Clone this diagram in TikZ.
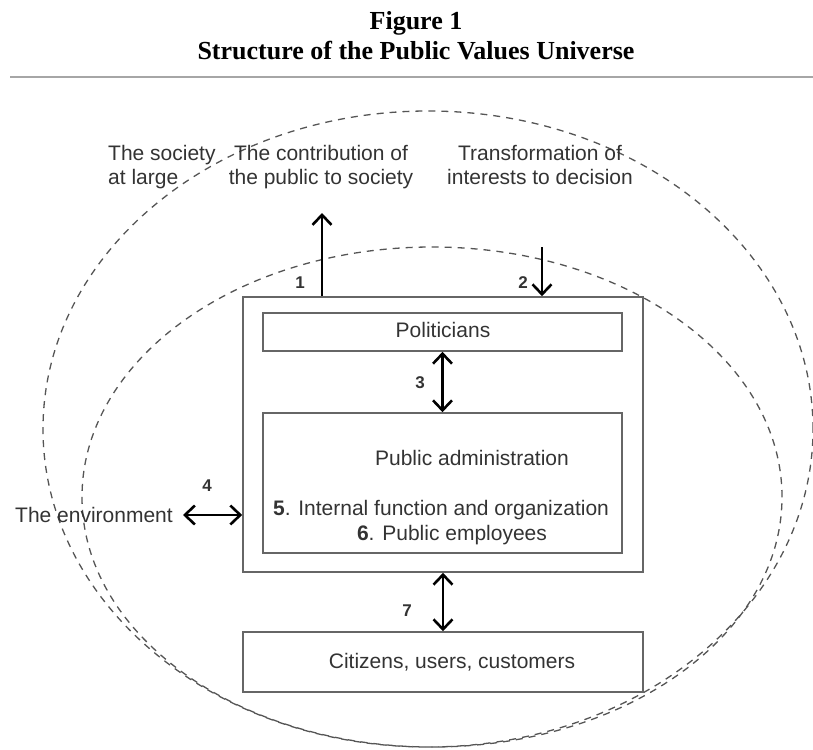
\documentclass[tikz,border=0pt]{standalone}
\usepackage{fontspec}
\setmainfont{Liberation Serif}
\setsansfont{Liberation Sans}
\usetikzlibrary{arrows.meta}
\definecolor{txt}{HTML}{333333}
\definecolor{boxc}{HTML}{666666}
\definecolor{dashc}{HTML}{555555}
\tikzset{
  box/.style={draw=boxc, line width=1.6pt, minimum width=#1, inner sep=0pt},
  lbl/.style={font=\sffamily\fontsize{21}{24}\selectfont, text=txt, inner sep=0pt, anchor=base},
  num/.style={font=\sffamily\bfseries\fontsize{17}{20}\selectfont, text=txt, inner sep=0pt, anchor=base},
  tip/.style={Straight Barb[length=10pt,width=19pt,line width=2.6pt]},
  arr/.style={line width=2.5pt, -{Straight Barb[length=10pt,width=19pt,line width=2.6pt]}},
  darr/.style={line width=2.5pt, {Straight Barb[length=10pt,width=19pt,line width=2.6pt]}-{Straight Barb[length=10pt,width=19pt,line width=2.6pt]}},
  dashell/.style={draw=dashc, line width=1.3pt, dash pattern=on 7pt off 6pt}
}
\begin{document}
\begin{tikzpicture}[x=1pt,y=-1pt]
\useasboundingbox (0,0) rectangle (813,749);
% title
\node[font=\rmfamily\bfseries\fontsize{26}{30}\selectfont, anchor=base, inner sep=0pt] (fig) at (416,30) {Figure 1};
\node[font=\rmfamily\bfseries\fontsize{26}{30}\selectfont, anchor=base, inner sep=0pt] (ttl) at (416,60) {Structure of the Public Values Universe};
\coordinate (rl) at (10,77);
\coordinate (rr) at (813,77);
\draw[draw=black!35, line width=1.8pt] (rl) -- (rr);
% ellipses
\draw[dashell] (428,429) ellipse [x radius=385pt, y radius=318pt];
\draw[dashell] (432,497) ellipse [x radius=350pt, y radius=250pt];
% boxes
\node[box=400pt, minimum height=275pt] (main) at (443,434.5) {};
\node[box=359pt, minimum height=38pt] (pol) at (442.5,332) {};
\node[box=359pt, minimum height=140pt] (adm) at (442.5,483) {};
\node[box=400pt, minimum height=60pt] (cit) at (443,662) {};
% texts in boxes
\node[lbl] (tpol) at (443,337) {Politicians};
\node[lbl] (tadm) at (472,465) {Public administration};
\node[lbl] (t5) at (441,515) {\textbf{5}. Internal function and organization};
\node[lbl] (t6) at (452,540) {\textbf{6}. Public employees};
\node[lbl] (tcit) at (452,668) {Citizens, users, customers};
% top texts
\node[lbl, anchor=base west, align=left] (soc) at (108,184) {The society\\at large};
\node[lbl, align=center] (contr) at (321,184) {The contribution of\\the public to society};
\node[lbl, align=center] (transf) at (540,184) {Transformation of\\interests to decision};
\node[lbl, anchor=base east, inner sep=0pt] (env) at (173,522) {The environment};
% numbers
\node[num] (n1) at (300,288) {1};
\node[num] (n2) at (523,288) {2};
\node[num] (n3) at (420,388) {3};
\node[num] (n4) at (207,491) {4};
\node[num] (n7) at (407,616) {7};
% arrows
\coordinate (c1) at (322,213);
\coordinate (c2) at (542,247);
\coordinate (c4) at (183,515);
\draw[arr] (main.north -| c1) -- (c1);
\draw[arr] (c2) -- (main.north -| c2);
\draw[darr] (pol.south) -- (adm.north);
\draw[darr] (main.south) -- (cit.north);
\draw[darr] (c4) -- (c4 -| main.west);
\end{tikzpicture}
\end{document}
